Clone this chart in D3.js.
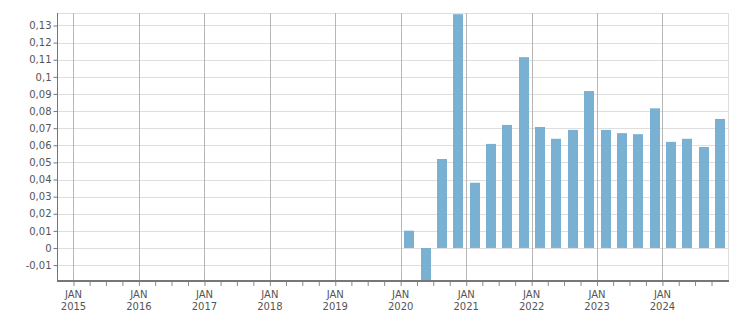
<!DOCTYPE html>
<html>
<head>
<meta charset="utf-8">
<script src="https://cdn.jsdelivr.net/npm/d3@7"></script>
<style>
  html, body { margin: 0; padding: 0; background: #fff; }
  svg { display: block; }
  text { font-family: "DejaVu Sans", Verdana, sans-serif; font-size: 10px; fill: #555; }
</style>
</head>
<body>
<svg id="chart" width="751" height="313"></svg>
<script>
// ---- data ----
const quarters = [
  "2020-01-01","2020-04-01","2020-07-01","2020-10-01",
  "2021-01-01","2021-04-01","2021-07-01","2021-10-01",
  "2022-01-01","2022-04-01","2022-07-01","2022-10-01",
  "2023-01-01","2023-04-01","2023-07-01","2023-10-01",
  "2024-01-01","2024-04-01","2024-07-01","2024-10-01"
];
const values = [
  0.0101, -0.0195, 0.052, 0.1366,
  0.0381, 0.0608, 0.0719, 0.1115,
  0.0707, 0.0638, 0.0690, 0.0917,
  0.0690, 0.0671, 0.0665, 0.0816,
  0.0620, 0.0638, 0.0590, 0.0754
];
const yTicks = [-0.01, 0, 0.01, 0.02, 0.03, 0.04, 0.05, 0.06, 0.07, 0.08, 0.09, 0.10, 0.11, 0.12, 0.13];
const yearTicks = ["2015","2016","2017","2018","2019","2020","2021","2022","2023","2024"];
const monthLabel = "JAN";

// ---- layout ----
const svg = d3.select("#chart");
const L = 57, R = 728, T = 13, B = 281;
const parse = d3.timeParse("%Y-%m-%d");

const x = d3.scaleTime()
  .domain([parse("2014-10-01"), parse("2025-01-01")])
  .range([L, R]);
const y = d3.scaleLinear()
  .domain([-0.0193, 0.1373])
  .range([B, T]);

const fmt = v => String(+v.toFixed(2)).replace(".", ",");

// horizontal grid
svg.append("g").selectAll("line").data(yTicks).join("line")
  .attr("x1", L).attr("x2", R)
  .attr("y1", d => Math.round(y(d)) + 0.5).attr("y2", d => Math.round(y(d)) + 0.5)
  .attr("stroke", "#dedede").attr("stroke-width", 1);
// top and right border
svg.append("line").attr("x1", L).attr("x2", R).attr("y1", T + 0.5).attr("y2", T + 0.5)
  .attr("stroke", "#dedede");
svg.append("line").attr("x1", R + 0.5).attr("x2", R + 0.5).attr("y1", T).attr("y2", B)
  .attr("stroke", "#dedede");

// vertical grid at January
const janDates = yearTicks.map(yr => parse(yr + "-01-01"));
svg.append("g").selectAll("line").data(janDates).join("line")
  .attr("x1", d => Math.round(x(d)) + 0.5).attr("x2", d => Math.round(x(d)) + 0.5)
  .attr("y1", T).attr("y2", B)
  .attr("stroke", "#b6b6b6").attr("stroke-width", 1);

// bars
const barW = 10;
const data = quarters.map((q, i) => {
  const s = parse(q);
  return { start: s, end: d3.timeMonth.offset(s, 3), v: values[i] };
});
svg.append("g").selectAll("rect").data(data).join("rect")
  .attr("x", d => Math.round((x(d.start) + x(d.end)) / 2 - barW / 2 + 0.5))
  .attr("width", barW)
  .attr("y", d => Math.min(y(d.v), y(0)))
  .attr("height", d => Math.abs(y(d.v) - y(0)))
  .attr("fill", "#7ab1d3");

// left axis
const yAxis = svg.append("g").attr("transform", `translate(${L + 0.5},0)`)
  .call(d3.axisLeft(y).tickValues(yTicks).tickSize(4).tickPadding(2).tickFormat(fmt));
yAxis.select(".domain").attr("stroke", "#777").attr("d", `M0,${T}V${B}`);
yAxis.selectAll(".tick line").attr("stroke", "#777");
yAxis.selectAll(".tick text").attr("fill", "#555")
  .style("font-family", '"DejaVu Sans", Verdana, sans-serif').style("font-size", "10px");

// bottom axis: quarterly ticks
const qTicks = d3.timeMonth.every(3).range(parse("2015-01-01"), parse("2025-01-01"));
const xAxis = svg.append("g").attr("transform", `translate(0,${B})`)
  .call(d3.axisBottom(x).tickValues(qTicks).tickSize(5).tickFormat(""));
xAxis.select(".domain").remove();
xAxis.selectAll(".tick line").attr("stroke", "#888");
svg.append("line").attr("x1", L).attr("x2", R + 1).attr("y1", B).attr("y2", B)
  .attr("stroke", "#777").attr("stroke-width", 2);

// x labels
const lab = svg.append("g").selectAll("g").data(janDates).join("g")
  .attr("transform", d => `translate(${x(d)},0)`);
lab.append("text").attr("text-anchor", "middle").attr("y", 298).text(monthLabel);
lab.append("text").attr("text-anchor", "middle").attr("y", 310).text((d, i) => yearTicks[i]);
</script>
</body>
</html>
